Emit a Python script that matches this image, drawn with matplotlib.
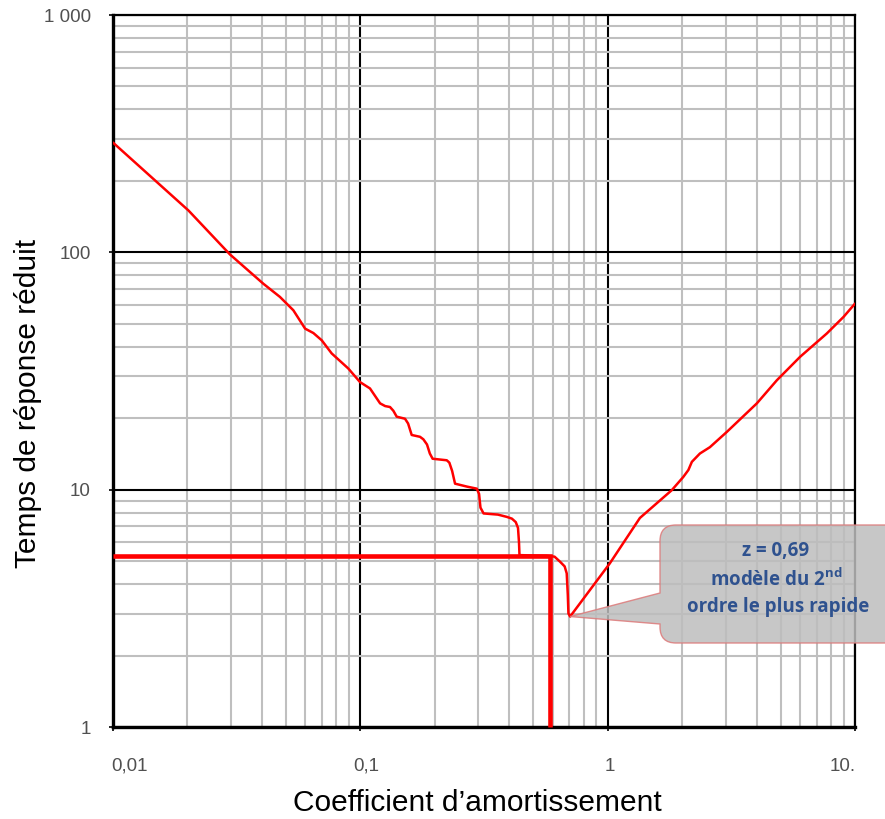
import numpy as np
import matplotlib
matplotlib.use("Agg")
import matplotlib.pyplot as plt
from matplotlib.ticker import LogLocator, NullFormatter
from matplotlib.path import Path
from matplotlib.patches import PathPatch
from matplotlib.transforms import IdentityTransform, ScaledTranslation

plt.rcParams['mathtext.fontset'] = 'custom'
plt.rcParams['mathtext.rm'] = 'Open Sans'
plt.rcParams['mathtext.bf'] = 'Open Sans:bold'

# --- data (damping ratio vs reduced settling time) ---
z_curve = [0.010, 0.0202, 0.0297, 0.0405, 0.0473, 0.0536, 0.0598, 0.0646, 0.0698,
           0.0766, 0.0894, 0.0997, 0.1094, 0.1202, 0.1260, 0.1318, 0.1360, 0.1403,
           0.1516, 0.1560, 0.1613, 0.1743, 0.1798, 0.1860, 0.1910, 0.1960, 0.2236,
           0.2290, 0.2350, 0.2415, 0.2700, 0.2956, 0.3020, 0.3060, 0.3150, 0.3600,
           0.3910, 0.4100, 0.4250, 0.4340, 0.4380, 0.4400, 0.5000, 0.5670, 0.6100,
           0.6420, 0.6700, 0.6830, 0.6900, 0.6940, 0.7050, 1.02, 1.35, 1.816,
           2.02, 2.12, 2.19, 2.36, 2.59, 3.03, 4.01, 4.83, 6.0, 7.69, 8.98, 10.0]
t_curve = [290, 150, 98, 73.8, 64.9, 57.0, 47.7, 45.7, 42.6,
           37.5, 32.4, 28.4, 26.7, 23.1, 22.5, 22.3, 21.5, 20.3,
           19.9, 19.0, 17.0, 16.7, 16.3, 15.5, 14.2, 13.5, 13.3,
           13.0, 12.0, 10.6, 10.3, 10.1, 9.6, 8.4, 7.94, 7.85,
           7.68, 7.55, 7.3, 6.9, 6.0, 5.3, 5.28, 5.27, 5.22,
           4.97, 4.75, 4.44, 3.6, 3.01, 2.92, 4.89, 7.6, 9.95,
           11.3, 12.1, 13.1, 14.2, 15.1, 17.5, 23.1, 28.9, 36.3, 45.5, 53.4, 60.8]

# thick marker lines
z_mark = 0.585
t_mark = 5.25

# optimum point
z_opt = 0.705
t_opt = 2.92

x_ticks = [0.01, 0.1, 1, 10]
x_labels = ['0,01', '0,1', '1', '10.']
y_ticks = [1, 10, 100, 1000]
y_labels = ['1', '10', '100', '1 000']

callout_lines = ['z = 0,69', r'modèle du 2$^{\mathbf{nd}}$', 'ordre le plus rapide']

W, H = 885, 819
fig = plt.figure(figsize=(W / 100, H / 100), dpi=100, facecolor='white')
ax = fig.add_axes([113 / W, (H - 727) / H, 742 / W, 712 / H])

ax.set_xscale('log')
ax.set_yscale('log')
ax.set_xlim(0.01, 10)
ax.set_ylim(1, 1000)

ax.xaxis.set_minor_locator(LogLocator(base=10, subs=range(2, 10)))
ax.yaxis.set_minor_locator(LogLocator(base=10, subs=range(2, 10)))
ax.xaxis.set_minor_formatter(NullFormatter())
ax.yaxis.set_minor_formatter(NullFormatter())
ax.set_xticks(x_ticks, x_labels)
ax.set_yticks(y_ticks, y_labels)

ax.grid(which='major', color='black', lw=1.5)
ax.grid(which='minor', color='#bfbfbf', lw=1.5)
ax.set_axisbelow(True)

ax.tick_params(which='major', length=3, width=1.2, color='black',
               labelsize=13.5, labelcolor='#505050')
ax.tick_params(which='minor', length=0)
ax.tick_params(axis='x', pad=19)
ax.tick_params(axis='y', pad=13)
for lab in ax.get_xticklabels() + ax.get_yticklabels():
    lab.set_fontfamily('Liberation Sans')
# the x labels sit a little off their ticks in the original
for lab, dx in zip(ax.get_xticklabels(), [17, 6, 2, -12]):
    lab.set_transform(lab.get_transform() + ScaledTranslation(dx / 100, 0, fig.dpi_scale_trans))

for side, lw in [('left', 2.4), ('bottom', 2.4), ('top', 1.6), ('right', 1.6)]:
    ax.spines[side].set_linewidth(lw)
    ax.spines[side].set_color('black')

# curves
ax.plot(z_curve, t_curve, color='#ff0000', lw=1.8, zorder=3,
        solid_joinstyle='round', solid_capstyle='round')
ax.plot([x_ticks[0], z_mark, z_mark], [t_mark, t_mark, y_ticks[0]],
        color='#ff0000', lw=3.3, zorder=4, solid_joinstyle='miter',
        solid_capstyle='butt', clip_on=False)

ax.set_xlabel("Coefficient d\u2019amortissement", fontsize=21.5,
              family='Liberation Sans')
ax.set_ylabel("Temps de réponse réduit", fontsize=21.5, family='Liberation Sans')
ax.xaxis.label.set_va('center')
ax.yaxis.label.set_va('center')
ax.xaxis.set_label_coords(0.491, -0.107)
ax.yaxis.set_label_coords(-0.115, 0.455)

# callout balloon (pixel coordinates, y up)
tip = ax.transData.transform((z_opt, t_opt))
L, R, T, B = 660, 905, 525, 643
r = 16
y1, y2 = 593, 624
verts = [
    (L, H - y1), (L, H - T - r),
    (L, H - T), (L + r, H - T),
    (R - r, H - T),
    (R, H - T), (R, H - T - r),
    (R, H - B + r),
    (R, H - B), (R - r, H - B),
    (L + r, H - B),
    (L, H - B), (L, H - B + r),
    (L, H - y2),
    (tip[0], tip[1]),
    (L, H - y1),
]
codes = [Path.MOVETO, Path.LINETO,
         Path.CURVE3, Path.CURVE3,
         Path.LINETO,
         Path.CURVE3, Path.CURVE3,
         Path.LINETO,
         Path.CURVE3, Path.CURVE3,
         Path.LINETO,
         Path.CURVE3, Path.CURVE3,
         Path.LINETO,
         Path.LINETO,
         Path.CLOSEPOLY]
balloon = PathPatch(Path(verts, codes), transform=IdentityTransform(),
                    facecolor='#bdbdbd', edgecolor='#dd7a7a', lw=1.0,
                    alpha=0.85, zorder=5)
fig.add_artist(balloon)

for (cx, cy), line in zip([(776, 551), (776, 580), (778, 607)], callout_lines):
    fig.text(cx / W, 1 - cy / H, line, ha='center', va='center', fontsize=13.5,
             fontweight='bold', family='Open Sans', color='#2f528f', zorder=6)

fig.savefig('out.png', dpi=100, facecolor='white')
